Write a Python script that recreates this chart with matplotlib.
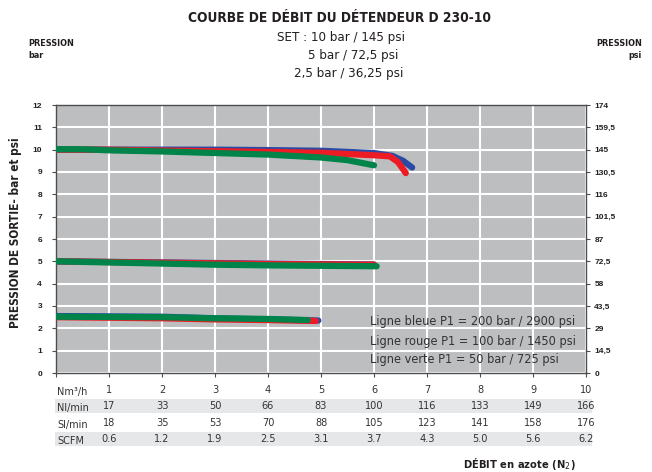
import matplotlib
matplotlib.use("Agg")
import matplotlib.pyplot as plt
import matplotlib.transforms as mtransforms
from matplotlib.patches import Rectangle

# condensed face of DejaVu Sans stands in for the narrow font of the original
COND = dict(family="DejaVu Sans", fontstretch="condensed")

# top group (SET 10 bar)
blue_10_x = [0, 1, 2, 3, 4, 5, 6, 6.35, 6.55, 6.72]
blue_10_y = [10.0, 10.0, 10.0, 10.0, 9.98, 9.95, 9.85, 9.72, 9.5, 9.2]
red_10_x = [0, 1, 2, 3, 4, 5, 6, 6.3, 6.45, 6.6]
red_10_y = [10.0, 10.0, 9.96, 9.93, 9.9, 9.86, 9.75, 9.7, 9.45, 8.95]
green_10_x = [0, 0.5, 1, 2, 3, 4, 5, 5.5, 6.0]
green_10_y = [10.02, 10.02, 9.97, 9.92, 9.85, 9.78, 9.65, 9.53, 9.3]

# middle group (SET 5 bar)
blue_5_x = [0, 2, 4, 6]
blue_5_y = [5.0, 4.95, 4.9, 4.86]
red_5_x = [0, 2, 4, 6]
red_5_y = [5.0, 4.94, 4.88, 4.85]
green_5_x = [0, 1, 2, 3, 4, 5, 6.05]
green_5_y = [5.0, 4.95, 4.9, 4.85, 4.82, 4.8, 4.78]

# lower group (SET 2,5 bar)
blue_25_x = [0, 2, 3, 4, 4.95]
blue_25_y = [2.55, 2.52, 2.45, 2.4, 2.35]
red_25_x = [0, 2, 3, 4, 4.9]
red_25_y = [2.5, 2.45, 2.4, 2.37, 2.33]
green_25_x = [0, 2, 3, 4, 4.75]
green_25_y = [2.52, 2.5, 2.45, 2.42, 2.37]

bar_ticks = list(range(0, 13))
psi_labels = ["0", "14,5", "29", "43,5", "58", "72,5", "87", "101,5", "116", "130,5", "145", "159,5", "174"]

flow_pos = [1, 2, 3, 4, 5, 6, 7, 8, 9, 10]
row_names = ["Nm³/h", "Nl/min", "Sl/min", "SCFM"]
nm3h = ["1", "2", "3", "4", "5", "6", "7", "8", "9", "10"]
nlmin = ["17", "33", "50", "66", "83", "100", "116", "133", "149", "166"]
slmin = ["18", "35", "53", "70", "88", "105", "123", "141", "158", "176"]
scfm = ["0.6", "1.2", "1.9", "2.5", "3.1", "3.7", "4.3", "5.0", "5.6", "6.2"]
rows = [nm3h, nlmin, slmin, scfm]

legend_lines = ["Ligne bleue P1 = 200 bar / 2900 psi",
                "Ligne rouge P1 = 100 bar / 1450 psi",
                "Ligne verte P1 = 50 bar / 725 psi"]

BLUE = "#2b4aa6"
RED = "#ed1c24"
GREEN = "#00844a"
TXT = "#231f20"

W, H = 652, 472
fig = plt.figure(figsize=(6.52, 4.72), dpi=100)
ax = fig.add_axes([56 / W, 1 - 373 / H, (586 - 56) / W, (373 - 105) / H])
ax.set_facecolor("#bcbec0")

lw = 4.5
for xs, ys, c in [(blue_10_x, blue_10_y, BLUE), (red_10_x, red_10_y, RED), (green_10_x, green_10_y, GREEN),
                  (blue_5_x, blue_5_y, BLUE), (red_5_x, red_5_y, RED), (green_5_x, green_5_y, GREEN),
                  (blue_25_x, blue_25_y, BLUE), (red_25_x, red_25_y, RED), (green_25_x, green_25_y, GREEN)]:
    ax.plot(xs, ys, color=c, lw=lw, solid_capstyle="round", solid_joinstyle="round", zorder=3)

ax.set_xlim(0, 10)
ax.set_ylim(0, 12)
ax.set_xticks(range(0, 11))
ax.set_xticklabels([])
ax.set_yticks(bar_ticks)
ax.set_yticklabels([str(t) for t in bar_ticks], fontsize=6, fontweight="bold", family="Liberation Sans", color=TXT)
ax.grid(True, color="white", lw=1.5, zorder=1)
ax.set_axisbelow(True)
for s in ax.spines.values():
    s.set_color("#4d4d4f")
    s.set_linewidth(1.0)
ax.tick_params(axis="y", length=3, color="#4d4d4f", pad=7)
ax.tick_params(axis="x", length=3, color="#4d4d4f")

ax2 = ax.twinx()
ax2.set_ylim(0, 12)
ax2.set_yticks(bar_ticks)
ax2.set_yticklabels(psi_labels, fontsize=6, fontweight="bold", family="Liberation Sans", color=TXT)
ax2.tick_params(axis="y", length=3, color="#4d4d4f", pad=3)
for s in ax2.spines.values():
    s.set_visible(False)

# legend text inside the plot
for i, line in enumerate(legend_lines):
    fig.text(370 / W, 1 - (322 + 19 * i) / H, line, fontsize=9.1, color="#333333",
             va="center", ha="left", zorder=5, **COND)

# titles
fig.text(340 / W, 1 - 18 / H, "COURBE DE DÉBIT DU DÉTENDEUR D 230-10", ha="center", va="center",
         fontsize=9.8, fontweight="bold", color=TXT, **COND)
fig.text(341 / W, 1 - 38 / H, "SET : 10 bar / 145 psi", ha="center", va="center", fontsize=9.5, color=TXT, **COND)
fig.text(353 / W, 1 - 56 / H, "5 bar / 72,5 psi", ha="center", va="center", fontsize=9.5, color=TXT, **COND)
fig.text(349 / W, 1 - 74 / H, "2,5 bar / 36,25 psi", ha="center", va="center", fontsize=9.5, color=TXT, **COND)

fig.text(28 / W, 1 - 43 / H, "PRESSION", ha="left", va="center", fontsize=6.5, fontweight="bold", color=TXT, **COND)
fig.text(28 / W, 1 - 56 / H, "bar", ha="left", va="center", fontsize=6.5, fontweight="bold", color=TXT, **COND)
fig.text(642 / W, 1 - 43 / H, "PRESSION", ha="right", va="center", fontsize=6.5, fontweight="bold", color=TXT, **COND)
fig.text(642 / W, 1 - 56 / H, "psi", ha="right", va="center", fontsize=6.5, fontweight="bold", color=TXT, **COND)

fig.text(16 / W, 1 - 233 / H, "PRESSION DE SORTIE- bar et psi", rotation=90, ha="center", va="center",
         fontsize=8.5, fontweight="bold", color=TXT, **COND)

# flow table under the axis
trans = mtransforms.blended_transform_factory(ax.transData, fig.transFigure)
row_y = [1 - 390 / H, 1 - 406 / H, 1 - 423 / H, 1 - 439 / H]
for yy, shaded in zip(row_y, [False, True, False, True]):
    if shaded:
        fig.patches.append(Rectangle((55 / W, yy - 7 / H), (592 - 55) / W, 14 / H,
                                     transform=fig.transFigure, facecolor="#e6e7e8", edgecolor="none", zorder=0))
for name, vals, yy in zip(row_names, rows, row_y):
    fig.text(57 / W, yy - 2 / H, name, ha="left", va="center", fontsize=7.8, color="#333333", **COND)
    for xp, v in zip(flow_pos, vals):
        fig.text(xp, yy, v, transform=trans, ha="center", va="center", fontsize=7.8, color="#333333", **COND)

fig.text(576 / W, 1 - 464 / H, "DÉBIT en azote (N$_2$)", ha="right", va="center", fontsize=8,
         fontweight="bold", color=TXT, **COND)

fig.savefig("out.png", dpi=100)
